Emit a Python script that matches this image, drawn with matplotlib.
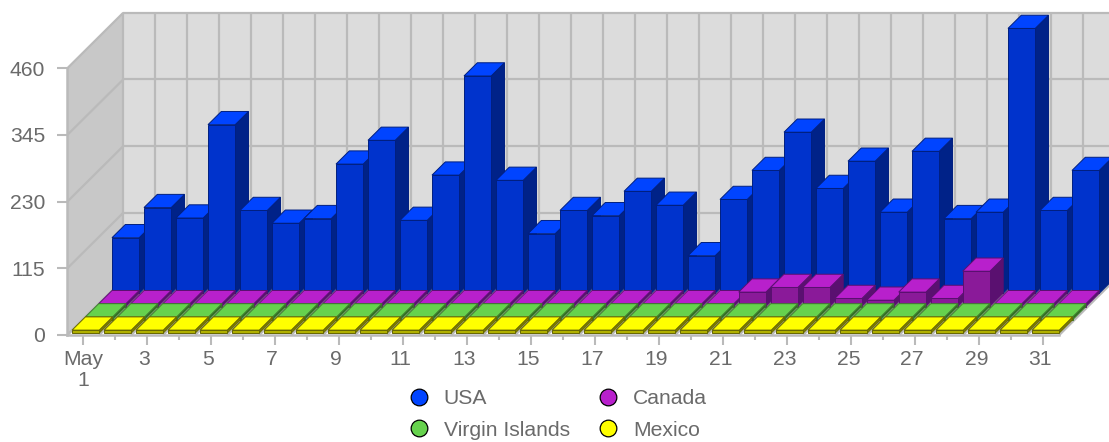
import matplotlib
matplotlib.use('Agg')
import matplotlib.pyplot as plt
from matplotlib.lines import Line2D
from matplotlib.patches import Polygon
from matplotlib.transforms import ScaledTranslation

plt.rcParams['font.family'] = ['Liberation Sans', 'DejaVu Sans']

days = list(range(1, 32))
usa = [96, 148, 130, 291, 143, 121, 129, 223, 264, 126, 204, 375, 195, 103, 143, 134,
       176, 152, 65, 162, 212, 278, 181, 228, 140, 245, 129, 140, 457, 143, 212]
canada = [5] * 20 + [25, 33, 33, 14, 11, 25, 14, 61, 5, 5, 5]
virgin_islands = [5] * 31
mexico = [5] * 31
y_ticks = [0, 115, 230, 345, 460]
x_labels = ['May\n1' if d == 1 else str(d) for d in days]

# front to back, colours are front, top, side, edge
series = [
    ('USA', usa, '#0033cc', '#0044ff', '#002288', '#001f80'),
    ('Canada', canada, '#8a1a99', '#b820cc', '#5a1070', '#5a1070'),
    ('Virgin Islands', virgin_islands, '#4c9c3a', '#66d24d', '#2f6b22', '#3d7a2c'),
    ('Mexico', mexico, '#b0b000', '#ffff00', '#808000', '#666600'),
]

GRID = '#bababa'
TEXT = '#6a6a6a'
W, H = 1109, 442
X0, X1, Y0, Y1 = 67.3, 1059.3, 335.0, 68.3

fig = plt.figure(figsize=(W / 100, H / 100), dpi=100)
ax = fig.add_axes([X0 / W, 1 - Y0 / H, (X1 - X0) / W, (Y0 - Y1) / H])
ax.set_xlim(0, 31)
ax.set_ylim(0, 460)
ax.patch.set_visible(False)

px_x = 31 / (X1 - X0)
px_y = 460 / (Y0 - Y1)
DEPTH_X, DEPTH_Y = 56 * px_x, 55.6 * px_y


def proj(x, v, d):
    # d is the depth, 0 at the front and 1 on the back wall
    return (x + d * DEPTH_X, v + d * DEPTH_Y)


def poly(points, face, edge=None, lw=0.0, z=1):
    ax.add_patch(Polygon(points, closed=True, facecolor=face, edgecolor=edge or face,
                         linewidth=lw, clip_on=False, zorder=z))


def line(a, b, z=1.5):
    ax.add_line(Line2D([a[0], b[0]], [a[1], b[1]], color=GRID, lw=1.6, clip_on=False,
                       zorder=z, solid_capstyle='butt'))


# walls
poly([proj(0, 0, 0), proj(0, 460, 0), proj(0, 460, 1), proj(0, 0, 1)], '#c8c8c8')
poly([proj(0, 0, 1), proj(0, 460, 1), proj(31, 460, 1), proj(31, 0, 1)], '#dcdcdc')

for v in y_ticks:
    line(proj(0, v, 0), proj(0, v, 1))
    line(proj(0, v, 1), proj(31, v, 1))
for k in range(32):
    line(proj(k, 0, 1), proj(k, 460, 1))
    line(proj(k, 0, 0), proj(k, 0, 1))

# bars, back row first and left to right
SLOT = 13.3 / 56
BAR_D = 13.3 / 56
BAR_LEFT = 4.8 * px_x
BAR_W = 27.2 * px_x
BASE = 2.0 * px_y

for name, values, front, top, side, edge in series:
    row = 3 - [s[0] for s in series].index(name)
    for i, v in enumerate(values):
        l, r = i + BAR_LEFT, i + BAR_LEFT + BAR_W
        d0, d1 = row * SLOT, row * SLOT + BAR_D
        b, t = BASE, BASE + v
        poly([proj(r, b, d0), proj(r, t, d0), proj(r, t, d1), proj(r, b, d1)], side, edge, 0.7, 3)
        poly([proj(l, t, d0), proj(r, t, d0), proj(r, t, d1), proj(l, t, d1)], top, edge, 0.7, 3)
        poly([proj(l, b, d0), proj(r, b, d0), proj(r, t, d0), proj(l, t, d0)], front, edge, 0.7, 3)

# axes
for s in ['top', 'right']:
    ax.spines[s].set_visible(False)
for s in ['left', 'bottom']:
    ax.spines[s].set_color(GRID)
    ax.spines[s].set_linewidth(1.8)

FS = 15.2
ax.set_yticks(y_ticks)
ax.set_xticks([i + 0.5 for i in range(0, 31, 2)])
ax.set_xticklabels(x_labels[::2])
ax.set_xticks([i + 0.5 for i in range(1, 31, 2)], minor=True)
ax.tick_params(axis='y', length=7.5, width=1.5, color=GRID, labelcolor=TEXT, labelsize=FS, pad=8.5)
ax.tick_params(axis='x', which='major', length=7.5, width=1.5, color=GRID, labelcolor=TEXT,
               labelsize=FS, pad=3)
ax.tick_params(axis='x', which='minor', length=3.6, width=1.5, color=GRID)
for i, lab in enumerate(ax.get_xticklabels()):
    lab.set_linespacing(1.15)
    if i > 0:
        lab.set_transform(lab.get_transform() + ScaledTranslation(-3 / 100, 0, fig.dpi_scale_trans))

handles = [Line2D([], [], ls='', marker='o', ms=12, mfc=c, mec='black', mew=0.9)
           for c in ['#0044ff', '#66d24d', '#b820cc', '#ffff00']]
leg = ax.legend(handles, ['USA', 'Virgin Islands', 'Canada', 'Mexico'], ncols=2,
                loc='upper left', bbox_to_anchor=(408.5 / W, 1 - 389 / H), bbox_transform=fig.transFigure,
                frameon=False, borderpad=0, borderaxespad=0, fontsize=FS, labelcolor=TEXT,
                handlelength=1.0, handletextpad=0.66, columnspacing=1.33, labelspacing=0.6)

fig.savefig('out.png', dpi=100)
